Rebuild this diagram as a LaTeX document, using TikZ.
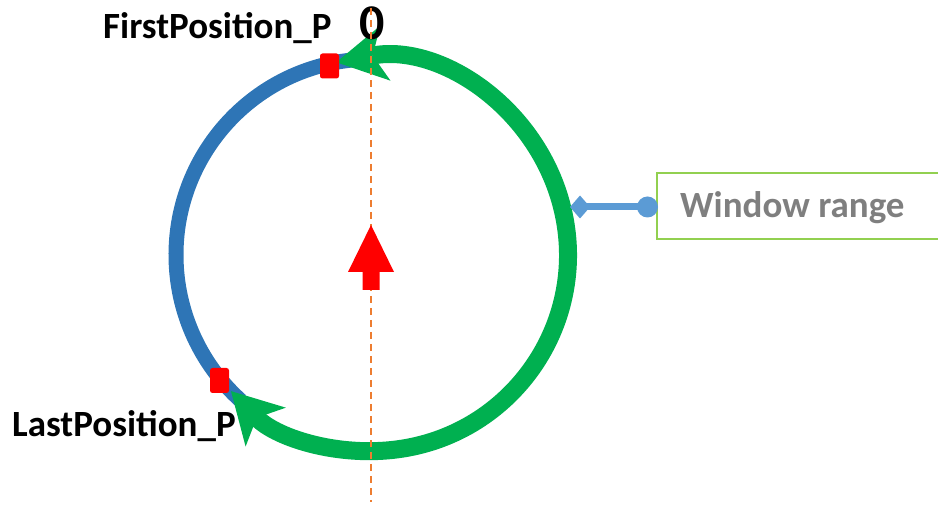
\documentclass[tikz,border=0pt]{standalone}
\usepackage{fontspec}
\setmainfont{Carlito}
\usetikzlibrary{arrows.meta}
\definecolor{cblue}{RGB}{46,117,182}
\definecolor{cgreen}{RGB}{0,176,80}
\definecolor{corange}{RGB}{237,125,49}
\definecolor{clight}{RGB}{146,208,80}
\definecolor{ccall}{RGB}{91,155,213}
\definecolor{cgray}{RGB}{127,127,127}
\begin{document}
\begin{tikzpicture}[x=1pt,y=1pt,
  lab/.style={font=\fontsize{37}{40}\selectfont\bfseries, inner sep=0pt},
  redsq/.style={fill=red, rounded corners=2.5pt, minimum width=19pt, minimum height=25pt, inner sep=0pt}]
\useasboundingbox (0,0) rectangle (938,506);
\coordinate (C) at (372,251);
% blue arc
\draw[cblue, line width=15pt] ([shift={(94:196)}]C) arc[start angle=94, end angle=228, radius=196];
% green arc with heads
\draw[cgreen, line width=18pt, {Stealth[length=50pt, width=56pt, inset=13pt, line width=0pt]}-{Stealth[length=50pt, width=56pt, inset=13pt, line width=0pt]}]
  ([shift={(100.5:196)}]C) arc[start angle=100.5, end angle=-136, radius=196];
% labels
\node[lab, anchor=base west] (first) at (103,467) {FirstPosition\_P};
\node[lab, anchor=base west] (last) at (12,69) {LastPosition\_P};
\node[font=\fontsize{50}{54}\selectfont\bfseries, inner sep=0pt, anchor=base] (zero) at (372,466) {0};
% dashed axis
\coordinate (dtop) at (371,498);
\coordinate (dbot) at (371,4);
\draw[corange, line width=1.8pt, dash pattern=on 7pt off 5pt] (dtop) -- (dbot);
% red markers
\node[redsq] (fp) at (329.5,440) {};
\node[redsq] (lp) at (219.5,125.5) {};
% red central arrow
\fill[red] (371,281) -- (394,234) -- (379.5,234) -- (379.5,216) -- (362.5,216) -- (362.5,234) -- (348,234) -- cycle;
% callout
\draw[clight, line width=1.5pt] (940,333) -- (657,333) -- (657,267) -- (940,267);
\node[lab, text=cgray, anchor=base west] (wr) at (680,288) {Window range};
\coordinate (dot) at (647.5,299);
\coordinate (dia) at (580,299);
\draw[ccall, line width=7pt] (dia) -- (dot);
\fill[ccall] (dot) circle[radius=10.5pt];
\fill[ccall] (570,299) -- (580,310.5) -- (590,299) -- (580,287.5) -- cycle;
\end{tikzpicture}
\end{document}
